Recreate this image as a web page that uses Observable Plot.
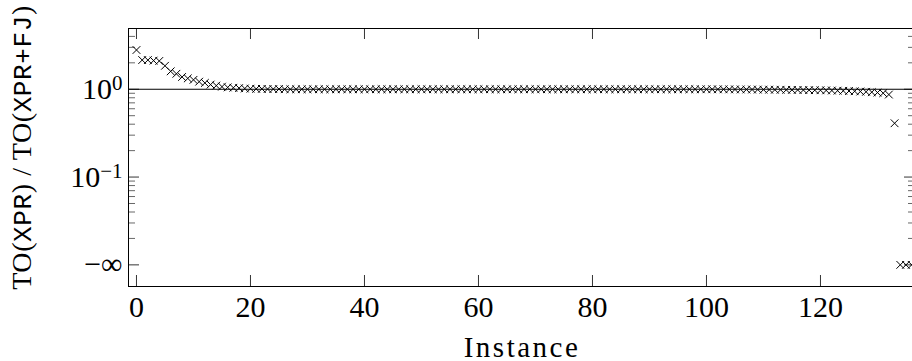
<!DOCTYPE html>
<html><head><meta charset="utf-8">
<script src="https://cdn.jsdelivr.net/npm/d3@7"></script>
<script src="https://cdn.jsdelivr.net/npm/@observablehq/plot@0.6"></script>
<style>
html,body{margin:0;padding:0;overflow:hidden;background:#fff;}
#chart{width:920px;}
</style></head><body><div id="chart"></div>
<script>
// Ratio TO(XPR) / TO(XPR+FJ) per instance (sorted). -Infinity = plotted at the "−∞" row.
const ratios = [
  2.8, 2.15, 2.15, 2.12, 2.1, 1.85, 1.6, 1.5, 1.38, 1.33,
  1.28, 1.22, 1.18, 1.13, 1.1, 1.07, 1.05, 1.04, 1.03, 1.02,
  1.015, 1.01, 1.01, 1.005, 1.005, 1.005, 1.0, 1.0, 1.0, 1.0,
  1.0, 1.0, 1.0, 1.0, 1.0, 1.0, 1.0, 1.0, 1.0, 1.0,
  1.0, 1.0, 1.0, 1.0, 1.0, 1.0, 1.0, 1.0, 1.0, 1.0,
  1.0, 1.0, 1.0, 1.0, 1.0, 1.0, 1.0, 1.0, 1.0, 1.0,
  1.0, 1.0, 1.0, 1.0, 1.0, 1.0, 1.0, 1.0, 1.0, 1.0,
  1.0, 1.0, 1.0, 1.0, 1.0, 1.0, 1.0, 1.0, 1.0, 1.0,
  1.0, 1.0, 1.0, 1.0, 1.0, 1.0, 1.0, 1.0, 1.0, 1.0,
  1.0, 1.0, 1.0, 1.0, 1.0, 1.0, 1.0, 1.0, 1.0, 0.999,
  0.999, 0.999, 0.998, 0.998, 0.997, 0.996, 0.995, 0.994, 0.993, 0.992,
  0.99, 0.99, 0.988, 0.987, 0.985, 0.984, 0.982, 0.98, 0.978, 0.976,
  0.974, 0.971, 0.968, 0.964, 0.96, 0.955, 0.949, 0.943, 0.936, 0.927,
  0.917, 0.903, 0.87, 0.41, -Infinity, -Infinity, -Infinity
];
const NEG_INF_ROW = 0.01;              // where "−∞" sits on the log axis
const xTicks = [0, 20, 40, 60, 80, 100, 120];
const yMajor = [1, 0.1, NEG_INF_ROW];
const yMajorLabels = ["10^0", "10^−1", "−∞"];
const yMinor = [2, 3, 4, 0.2, 0.3, 0.4, 0.5, 0.6, 0.7, 0.8, 0.9,
                0.02, 0.03, 0.04, 0.05, 0.06, 0.07, 0.08, 0.09];
const xDomain = [-1.4, 136.67];
const yDomain = [0.00567, 4.92];
const xLabel = "Instance";
const yLabel = "TO(XPR) / TO(XPR+FJ)";
const yLabelParts = [["TO(", "s"], ["XPR", "m"], [") / TO(", "s"], ["XPR+FJ", "m"], [")", "s"]];

const data = ratios.map((r, i) => ({i, r: r === -Infinity ? NEG_INF_ROW : r}));

const W = 920, H = 361, mL = 128, mR = 5, mT = 28, mB = 75;
const innerW = W - mL - mR, innerH = H - mT - mB;
const SERIF = "Liberation Serif";
const MONO = "Liberation Mono";

const chart = Plot.plot({
  width: W, height: H,
  marginLeft: mL, marginRight: mR, marginTop: mT, marginBottom: mB,
  style: {fontFamily: SERIF, background: "#fff", color: "#000", overflow: "visible"},
  x: {domain: xDomain},
  y: {type: "log", domain: yDomain},
  marks: [
    Plot.frame({stroke: "#000", strokeWidth: 1}),
    Plot.ruleY(yMajor, {stroke: "#000", strokeWidth: 0.8, insetRight: innerW - 11}),
    Plot.ruleY(yMajor, {stroke: "#000", strokeWidth: 0.8, insetLeft: innerW - 11}),
    Plot.ruleY(yMinor, {stroke: "#000", strokeWidth: 0.6, insetRight: innerW - 7}),
    Plot.ruleY(yMinor, {stroke: "#000", strokeWidth: 0.6, insetLeft: innerW - 7}),
    Plot.ruleX(xTicks, {stroke: "#000", strokeWidth: 0.8, insetTop: innerH - 11}),
    Plot.ruleX(xTicks, {stroke: "#000", strokeWidth: 0.8, insetBottom: innerH - 11}),
    Plot.ruleY([1], {stroke: "#000", strokeWidth: 1}),
    Plot.dot(data, {x: "i", y: "r", symbol: "times", r: 3.6, stroke: "#000", strokeWidth: 1}),
    Plot.axisX({ticks: xTicks, tickSize: 0, tickPadding: 9, fontSize: 30, label: null, tickFormat: d => String(d)}),
    Plot.axisY({ticks: yMajor, tickSize: 0, tickPadding: 6, fontSize: 30, label: null,
      tickFormat: d => yMajorLabels[yMajor.indexOf(d)]}),
    Plot.text([xLabel], {frameAnchor: "bottom", dy: 61, fontSize: 29, lineAnchor: "middle", fill: "#000"}),
    Plot.text([yLabel], {frameAnchor: "left", dx: -106, dy: -10, rotate: -90, fontSize: 28,
      textAnchor: "middle", lineAnchor: "middle", fill: "#000"})
  ]
});
document.getElementById("chart").appendChild(chart);

d3.select(chart).selectAll("text").each(function() {
  const t = this.textContent;
  const sel = d3.select(this);
  const m = /^10\^(.+)$/.exec(t);
  if (m) {
    sel.text("10");
    sel.append("tspan").attr("dy", "-0.42em").attr("font-size", "0.7em").text(m[1]);
  }
  if (t === xLabel) sel.attr("letter-spacing", "2.5px");
  if (t === yLabel) {
    sel.text("").attr("letter-spacing", "0.6px");
    for (const [s, f] of yLabelParts) {
      const sp = sel.append("tspan").text(s);
      sp.attr("font-family", f === "m" ? MONO : "serif");
      if (f === "m") sp.attr("font-size", 26);
    }
  }
});
</script></body></html>
